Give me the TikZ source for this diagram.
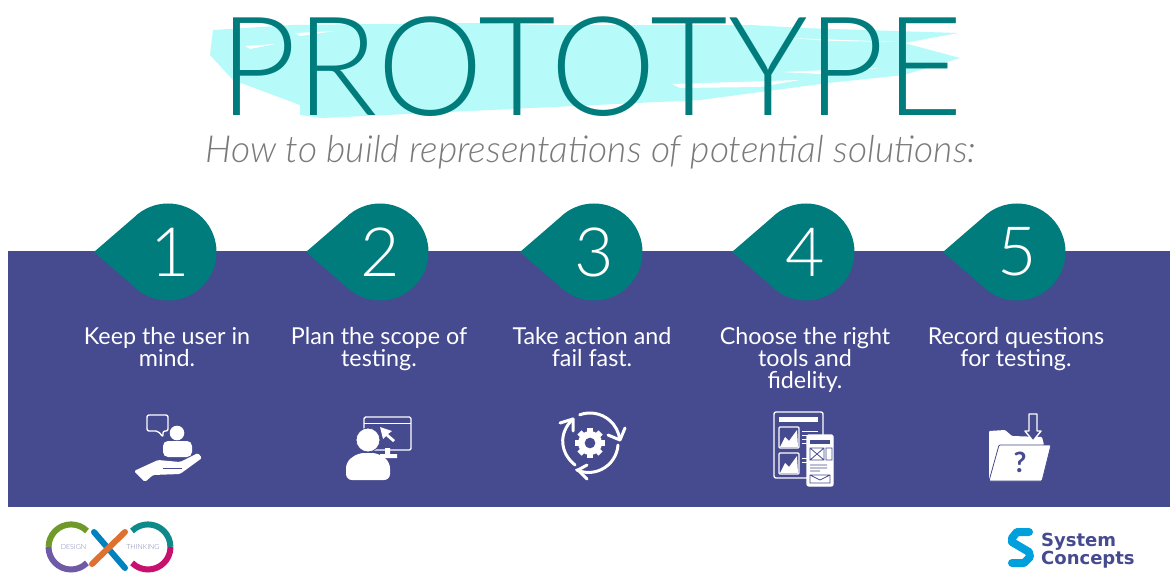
\documentclass[tikz,border=0pt]{standalone}
\usepackage{fontspec}
\setmainfont{Lato}
\newfontfamily\latolight{Lato Light}
\newfontfamily\sysfont{DejaVu Sans}
\setlength{\lineskiplimit}{-100pt}
\definecolor{band}{HTML}{464A8F}
\definecolor{teal1}{HTML}{007C7C}
\definecolor{aqua}{HTML}{B6FAFA}
\definecolor{graytxt}{HTML}{7A7A7A}
\definecolor{sysblue}{HTML}{00A0DC}
\definecolor{lgolive}{RGB}{111,154,42}
\definecolor{lgpurple}{RGB}{111,90,165}
\definecolor{lgteal}{RGB}{14,138,138}
\definecolor{lgmag}{RGB}{200,16,110}
\definecolor{lgblue}{RGB}{0,130,190}
\definecolor{lgorange}{RGB}{222,112,48}
\tikzset{
  drop/.style={fill=teal1,draw=none},
  num/.style={text=white,font=\latolight\fontsize{68}{68}\selectfont,inner sep=0pt},
  captxt/.style={text=white,font=\fontsize{23.3}{22}\selectfont,align=center,inner sep=0pt,anchor=north},
  ic/.style={draw=white,line width=1.4pt,line join=round},
  gearline/.style={white,line width=3pt,line cap=round,line join=round},
  lg/.style={line width=6pt,line cap=butt},
  lgbar/.style={line width=6pt,line cap=round},
}
\newcommand{\dropat}[2]{\fill[drop] (#1-74,#2) -- (#1-34.3,#2-34.3) arc[start angle=-135,end angle=135,radius=48.5] -- cycle;}
\begin{document}
\begin{tikzpicture}[x=1pt,y=-1pt]
\useasboundingbox (0,0) rectangle (1170,573);
\fill[white] (0,0) rectangle (1170,573);
% brush
\fill[aqua] (213,30) -- (210,55) -- (233,80) -- (300,105) -- (300,115) -- (323,118) -- (700,100) -- (828,83) -- (904,75) -- (960,58) -- (904,43) -- (958,33) -- (802,28) -- (751,25) -- (547,25) -- (470,23) -- (292,25) -- cycle;
\fill[white] (245,46) -- (275,44) -- (250,49) -- cycle;
\fill[white] (295,33) -- (335,31) -- (300,36) -- cycle;
\fill[white] (672,84) -- (800,80) -- (760,87) -- (680,88) -- cycle;
\fill[white] (780,72) -- (880,68) -- (820,74) -- cycle;
\fill[white] (790,38) -- (900,42) -- (830,41) -- cycle;
% title
\node[inner sep=0pt,anchor=base,text=teal1] (title) at (591,115) {\scalebox{1}[1.03]{\latolight\fontsize{134}{134}\selectfont PROTOTYPE}};
\node[inner sep=0pt,anchor=base,text=graytxt] (sub) at (591,162) {\latolight\itshape\fontsize{37.3}{38}\selectfont How to build representations of potential solutions:};
% band
\fill[band] (8,251) rectangle (1170,507);
% drops
\dropat{168}{252}\dropat{380}{252}\dropat{594}{252}\dropat{806}{252}\dropat{1017}{252}
\node[num] (n1) at (170,252) {1};
\node[num] (n2) at (380,252) {2};
\node[num] (n3) at (594,252) {3};
\node[num] (n4) at (805,252) {4};
\node[num] (n5) at (1017,252) {5};
% captions
\node[captxt] (c1) at (167,327) {Keep the user in\\mind.};
\node[captxt] (c2) at (379,327) {Plan the scope of\\testing.};
\node[captxt] (c3) at (592,327) {Take action and\\fail fast.};
\node[captxt] (c4) at (805,327) {Choose the right\\tools and\\fidelity.};
\node[captxt] (c5) at (1016,327) {Record questions\\for testing.};
% icon 1
\draw[ic,rounded corners=2pt] (147,415) -- (168,415) -- (168,431) -- (163,431) -- (163,437) -- (158,431) -- (147,431) -- cycle;
\fill[white] (177,433) circle[radius=7.3];
\fill[white,rounded corners=5pt] (163,457) -- (163,441) -- (192,441) -- (192,457) -- cycle;
\fill[white,rounded corners=1.5pt] (134,471) -- (158,460) -- (180,462) -- (198,453) -- (202,458) -- (180,474) -- (153,475) -- (145,482) -- cycle;
\draw[band,line width=1pt] (163,468) -- (182,468);
% icon 2
\draw[ic,rounded corners=1.5pt] (364,417) rectangle (411,450);
\draw[white,line width=1pt] (364,423) -- (411,423);
\fill[white] (380,427) -- (392,431) -- (388,434) -- (395,440) -- (393,442) -- (386,436) -- (383,439) -- cycle;
\fill[white,draw=band,line width=.8pt] (368,440) circle[radius=12];
\fill[white] (385,448) rectangle (390,458) (380,454) rectangle (397,458);
\fill[white,rounded corners=6pt] (346,480) -- (346,462) -- (358,453) -- (378,453) -- (390,462) -- (390,480) -- cycle;
% icon 3
\begin{scope}[shift={(590,443)}]
\foreach \a in {0,45,...,315}{\fill[white,rotate=\a] (-3,-15) rectangle (3,-10);}
\fill[white,even odd rule] (0,0) circle[radius=12] (0,0) circle[radius=5.5];
\draw[gearline] (-10.3,-28.2) arc[start angle=-110,end angle=-6,radius=30];
\draw[gearline] (18,-8) -- (30,-3) -- (35,-15);
\draw[gearline] (28,2) arc[start angle=4,end angle=114,radius=29.5];
\draw[gearline] (-3,22) -- (-12,27) -- (-3,36);
\draw[gearline] (-15,22) .. controls (-30,10) and (-32,-10) .. (-17,-24);
\draw[gearline] (-30,-20) -- (-17,-24) -- (-17,-12);
\end{scope}
% icon 4
\draw[ic,rounded corners=2pt] (774,412) rectangle (823,478);
\fill[white] (779,417) rectangle (818,422);
\draw[white,line width=1.2pt,rounded corners=1pt] (779,427) rectangle (799,448) (779,453) rectangle (799,474);
\fill[white] (780,447) -- (785,437) -- (789,441) -- (797,430) -- (798,447) -- cycle;
\fill[white] (780,473) -- (785,463) -- (789,467) -- (797,456) -- (798,473) -- cycle;
\draw[white,line width=1pt] (802,431) -- (818,431) (802,435) -- (815,435) (802,439) -- (810,439) (802,443) -- (807,443) (802,458) -- (807,458) (802,462) -- (807,462);
\draw[ic,fill=white,rounded corners=2pt] (807,435) rectangle (833,486);
\fill[band] (810,440) rectangle (830,444);
\draw[band,line width=.8pt] (810,448) rectangle (824,460) (810,448) -- (824,460) (810,460) -- (824,448) (826,448) rectangle (832,460) (810,465) -- (827,465) (810,468) -- (827,468) (810,471) -- (820,471) (810,475) rectangle (830,483) (810,475) -- (820,480) -- (830,475);
% icon 5
\fill[white,rounded corners=1pt] (989,481) -- (989,431) -- (1005,430) -- (1012,436) -- (1042,437) -- (1044,445) -- (999,445) -- (989,481) -- cycle;
\fill[white,draw=band,line width=.8pt,rounded corners=1pt] (999,445) -- (1051,445) -- (1042,481) -- (989,481) -- cycle;
\draw[ic,fill=band,line width=1.4pt] (1029,414) -- (1037,414) -- (1037,431) -- (1041,431) -- (1033,441) -- (1025,431) -- (1029,431) -- cycle;
\node[inner sep=0pt,text=band] (qm) at (1020,462) {\fontsize{28}{28}\selectfont\bfseries ?};
% logo left
\draw[lg,lgolive] (87,531) arc[start angle=-45,end angle=-180,radius=22.5];
\draw[lg,lgpurple] (48.5,547) arc[start angle=180,end angle=45,radius=22.5];
\draw[lg,lgteal] (132,531) arc[start angle=-135,end angle=0,radius=22.5];
\draw[lg,lgmag] (170.5,547) arc[start angle=0,end angle=135,radius=22.5];
\draw[lgbar,lgblue] (94,532) -- (125,568);
\draw[lgbar,lgorange] (92,564) -- (125,532);
\node[inner sep=0pt,text=band!70] (dsg) at (73.5,547) {\latolight\fontsize{7}{7}\selectfont DESIGN};
\node[inner sep=0pt,text=band!70] (thk) at (143,547) {\latolight\fontsize{7}{7}\selectfont THINKING};
% logo right
\draw[sysblue,line width=8pt,line join=round,line cap=round] (1029,532) -- (1017,532) -- (1012,538) -- (1012,542) -- (1029,552) -- (1030,557) -- (1024,563) -- (1012,563);
\node[inner sep=0pt,anchor=west,text=band,align=left,font=\sysfont\fontsize{18}{18}\selectfont\bfseries] (sys) at (1041,551) {System\\Concepts};
\end{tikzpicture}
\end{document}
